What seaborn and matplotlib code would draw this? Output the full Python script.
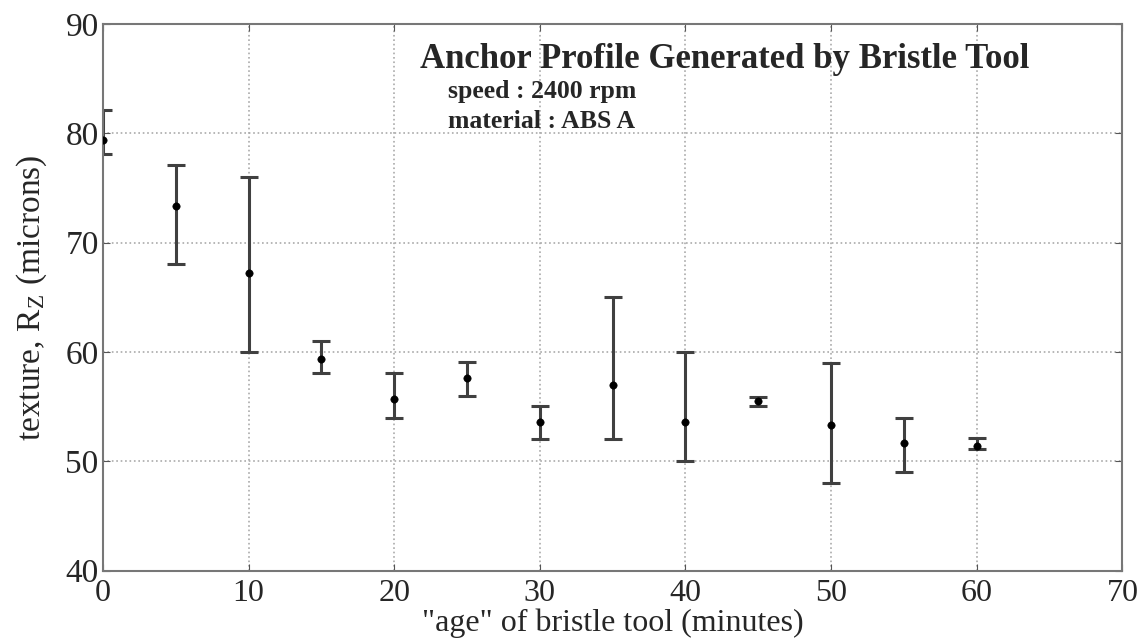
import seaborn as sns
import numpy as np
import pandas as pd
import matplotlib
matplotlib.use('Agg')
import matplotlib.pyplot as plt

# данные
age_min = [0, 5, 10, 15, 20, 25, 30, 35, 40, 45, 50, 55, 60]
rz_mean = [79.4, 73.3, 67.2, 59.4, 55.7, 57.6, 53.6, 57.0, 53.6, 55.5, 53.3, 51.7, 51.4]
rz_low = [78.1, 68.0, 60.0, 58.1, 54.0, 56.0, 52.0, 52.0, 50.0, 55.1, 48.0, 49.0, 51.1]
rz_high = [82.1, 77.1, 76.0, 61.0, 58.1, 59.1, 55.1, 65.0, 60.0, 55.9, 59.0, 54.0, 52.1]

df = pd.DataFrame({'age': age_min, 'rz': rz_mean, 'lo': rz_low, 'hi': rz_high})

sns.set_style('ticks')
plt.rcParams['font.family'] = ['Liberation Serif', 'DejaVu Serif']
plt.rcParams['mathtext.fontset'] = 'stix'

fig = plt.figure(figsize=(11.43, 6.42), dpi=100)
ax = fig.add_axes([0.090, 0.111, 0.892, 0.852])

yerr = np.array([df['rz'] - df['lo'], df['hi'] - df['rz']])
ax.errorbar(df['age'], df['rz'], yerr=yerr, fmt='none', ecolor='#404040',
            elinewidth=2.2, capsize=6.5, capthick=2.2, zorder=2)
sns.scatterplot(data=df, x='age', y='rz', ax=ax, color='black', s=28,
                edgecolor='black', zorder=3, legend=False)

ax.set_xlim(0, 70)
ax.set_ylim(40, 90)
ax.set_xticks(range(0, 71, 10))
ax.set_yticks(range(40, 91, 10))
ax.grid(True, linestyle=':', color='#aaaaaa', linewidth=1.2)
ax.tick_params(direction='in', top=True, right=True, labelsize=24, length=5,
               color='#555555')
ax.tick_params(axis='x', pad=6, labelsize=23)
ax.tick_params(axis='y', pad=3)
for s in ax.spines.values():
    s.set_color('#777777')
    s.set_linewidth(1.5)

ax.set_xlabel('"age" of bristle tool (minutes)', fontsize=23, labelpad=0)
ax.set_ylabel('texture, R$_\\mathregular{Z}$ (microns)', fontsize=24, labelpad=12)

ax.text(21.8, 86.0, 'Anchor Profile Generated by Bristle Tool', fontsize=25,
        fontweight='bold', va='baseline')
ax.text(23.7, 83.2, 'speed : 2400 rpm', fontsize=18.5, fontweight='bold', va='baseline')
ax.text(23.7, 80.45, 'material : ABS A', fontsize=18.5, fontweight='bold', va='baseline')

fig.savefig('out.png', dpi=100)
